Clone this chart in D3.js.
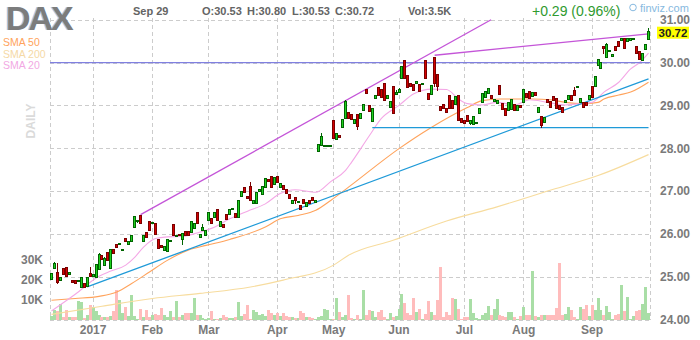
<!DOCTYPE html>
<html>
<head>
<meta charset="utf-8">
<script src="https://cdn.jsdelivr.net/npm/d3@7"></script>
<style>
  body { margin: 0; background: #fff; }
  svg { display: block; font-family: Arial, "Liberation Sans", sans-serif; }
  .grid line { stroke: #cccccc; stroke-dasharray: 4,3; shape-rendering: crispEdges; }
  .axis text { font-size: 12px; font-weight: bold; fill: #7a7a7a; }
  .axis path, .axis line { display: none; }
</style>
</head>
<body>
<svg id="chart" width="700" height="340"></svg>
<script>
// ===== data (DAX, daily, Dec 12 2016 - Sep 29 2017) =====
const opens = [
  24.94,25.18,25.10,24.92,25.18,25.21,25.05,24.92,24.92,24.88,24.75,24.84,24.76,25.08,
  25.00,24.98,25.17,25.49,25.26,25.57,25.18,25.63,25.74,25.74,25.61,25.90,25.76,25.83,26.14,26.30,26.42,25.83,26.03,26.28,
  26.24,26.25,25.86,25.72,25.62,25.59,25.83,26.21,25.94,25.99,25.87,26.06,26.05,26.03,26.12,26.49,25.92,26.07,25.95,
  26.31,26.35,26.37,26.57,26.18,26.21,26.45,26.46,26.58,26.48,26.39,26.88,27.08,26.87,27.11,26.70,26.70,26.98,26.91,27.09,27.28,27.34,27.16,
  27.34,27.09,27.13,27.04,26.92,26.70,26.85,26.74,26.67,26.80,26.65,26.78,26.86,26.73,27.93,28.06,28.04,28.04,28.04,
  28.64,28.20,28.29,28.49,28.69,28.84,28.78,28.58,28.78,28.69,28.87,29.38,28.99,28.63,29.15,29.41,29.38,29.50,29.15,28.94,29.43,29.25,
  29.31,29.62,30.05,29.69,29.50,29.48,29.50,29.48,29.51,30.04,29.27,29.25,30.12,29.71,28.97,29.03,28.93,29.23,29.12,29.01,29.24,28.70,
  28.65,28.77,28.57,28.55,28.57,28.82,29.06,29.19,29.27,29.24,29.10,29.04,29.46,29.04,28.92,28.88,28.90,29.01,28.88,28.99,
  29.06,29.27,29.32,29.21,29.30,28.83,28.74,28.61,29.13,29.09,29.21,29.15,28.99,28.96,29.06,29.13,29.23,29.35,29.43,29.06,29.07,29.07,29.13,
  29.43,29.43,29.94,29.85,30.37,30.11,30.27,30.14,30.37,30.49,30.51,30.56,30.49,30.52,30.53,30.37,30.25,30.04,30.30,30.53
];
const highs = [
  25.09,25.35,25.31,24.98,25.19,25.22,25.11,24.93,24.93,24.93,25.00,24.85,25.00,25.22,
  25.07,25.30,25.55,25.50,25.45,25.58,25.64,25.65,25.75,25.79,25.64,25.91,25.83,25.97,26.42,26.33,26.45,25.97,26.04,26.29,
  26.28,26.26,25.87,25.73,25.72,25.87,25.86,26.22,25.96,26.00,26.01,26.07,26.06,26.29,26.25,26.50,25.99,26.22,26.08,
  26.52,26.36,26.50,26.58,26.29,26.22,26.46,26.59,26.61,26.49,26.79,27.00,27.09,26.88,27.20,26.79,26.98,27.05,27.11,27.30,27.29,27.35,27.32,
  27.35,27.19,27.14,27.05,26.93,26.79,26.86,26.77,26.68,26.81,26.74,26.79,26.87,26.79,28.09,28.35,28.07,28.07,28.07,
  28.65,28.35,28.30,28.67,29.12,28.85,28.79,28.68,28.79,28.83,29.02,29.39,29.00,28.93,29.24,29.42,29.39,29.51,29.24,29.10,29.44,29.36,
  29.40,29.93,30.06,29.70,29.51,29.49,29.57,29.49,29.53,30.05,29.28,29.47,30.13,29.72,28.98,29.04,28.94,29.24,29.13,29.22,29.25,28.71,
  28.66,28.78,28.66,28.76,28.61,28.93,29.28,29.33,29.41,29.25,29.15,29.13,29.47,29.05,28.93,29.08,29.14,29.02,29.00,29.00,
  29.38,29.28,29.33,29.32,29.31,28.97,28.75,28.73,29.14,29.10,29.22,29.16,29.00,28.97,29.12,29.24,29.24,29.44,29.46,29.16,29.08,29.08,29.25,
  29.44,29.69,30.08,30.02,30.38,30.45,30.30,30.19,30.38,30.50,30.58,30.57,30.56,30.58,30.57,30.38,30.26,30.23,30.44,30.80
];
const lows = [
  24.92,25.17,24.84,24.91,25.04,25.00,25.04,24.85,24.83,24.87,24.74,24.74,24.75,24.99,
  24.99,24.97,25.16,25.39,25.25,25.37,25.17,25.53,25.67,25.73,25.60,25.80,25.75,25.82,26.13,26.26,26.24,25.82,25.90,26.07,
  26.23,25.97,25.64,25.67,25.61,25.58,25.82,25.94,25.93,25.95,25.75,25.95,25.95,26.02,26.11,26.23,25.91,26.06,25.94,
  26.30,26.24,26.36,26.31,26.17,26.13,26.33,26.45,26.57,26.38,26.38,26.87,26.96,26.81,26.77,26.69,26.69,26.97,26.90,27.08,27.21,27.08,27.15,
  27.19,27.08,27.02,26.93,26.81,26.69,26.70,26.73,26.55,26.71,26.64,26.69,26.77,26.72,27.92,28.05,28.03,28.03,28.03,
  28.21,28.19,28.24,28.48,28.68,28.68,28.66,28.57,28.43,28.68,28.86,29.26,28.85,28.62,29.14,29.22,29.18,29.10,29.14,28.93,28.80,29.24,
  29.30,29.61,29.62,29.41,29.43,29.34,29.49,29.32,29.50,29.61,29.12,29.24,29.42,29.34,28.88,28.91,28.82,28.91,28.91,29.00,28.64,28.60,
  28.57,28.62,28.55,28.54,28.56,28.81,29.05,29.18,29.26,29.14,29.09,29.03,29.24,28.89,28.75,28.87,28.89,28.87,28.87,28.93,
  29.05,29.18,29.16,29.20,29.21,28.82,28.48,28.60,29.06,28.95,29.10,28.92,28.89,28.83,29.05,29.12,29.10,29.22,29.42,29.05,28.95,28.99,29.12,
  29.18,29.42,29.93,29.84,30.20,30.10,30.26,30.13,30.27,30.37,30.50,30.32,30.48,30.51,30.52,30.21,30.07,30.03,30.29,30.53
];
const closes = [
  25.07,25.31,24.86,24.97,25.05,25.01,25.10,24.86,24.84,24.92,24.98,24.75,24.98,25.00,
  25.06,25.28,25.52,25.40,25.43,25.38,25.63,25.54,25.68,25.78,25.63,25.81,25.82,25.96,26.40,26.32,26.25,25.96,25.91,26.08,
  26.27,25.98,25.65,25.68,25.71,25.86,25.85,25.95,25.95,25.96,26.00,25.96,25.96,26.28,26.24,26.24,25.98,26.14,26.07,
  26.50,26.25,26.49,26.32,26.28,26.14,26.34,26.58,26.60,26.39,26.78,26.99,26.97,26.82,26.78,26.78,26.97,27.04,27.10,27.29,27.22,27.09,27.31,
  27.20,27.18,27.03,26.94,26.82,26.78,26.77,26.76,26.56,26.72,26.73,26.70,26.78,26.78,28.08,28.28,28.06,28.06,28.06,
  28.22,28.34,28.25,28.66,29.10,28.69,28.67,28.67,28.51,28.82,29.01,29.27,28.86,28.92,29.23,29.23,29.19,29.11,29.23,29.09,28.81,29.31,
  29.38,29.91,29.63,29.42,29.44,29.35,29.56,29.33,29.52,29.62,29.13,29.46,29.52,29.45,28.89,28.92,28.83,28.92,28.92,29.21,28.65,28.61,
  28.58,28.63,28.65,28.75,28.60,28.92,29.27,29.32,29.40,29.15,29.14,29.12,29.25,28.90,28.76,29.07,29.13,28.88,28.99,28.94,
  29.37,29.19,29.17,29.31,29.22,28.96,28.53,28.72,29.07,28.96,29.11,28.93,28.90,28.84,29.11,29.23,29.11,29.23,29.45,29.15,28.96,29.00,29.24,
  29.19,29.68,30.07,30.01,30.32,30.43,30.29,30.18,30.28,30.38,30.57,30.33,30.55,30.57,30.56,30.22,30.08,30.22,30.43,30.72
];
// volume in thousands
const volumes = [
  2,5,4.5,8,1.7,5,1.3,1.3,1.7,9.5, 9,0.8,2.3,7.5,6.7,4.7,2.5,1.7,1.3,1.7,
  2,4.7,15,10,3.3,6.7,2,12.5,2,0.7, 5.3,1.7,5,1.3,2.5,3,2.5,5.8,2.5,1.3,
  4.7,1.3,9.5,1.3,2.5,3.7,3.3,3.7,11,2.5, 2.5,0.8,0.3,0.8,4.7,0.7,0.7,0.8,2.5,1.3,
  0.8,0.8,1.3,9,2,3,7.5,0.7,5,4.2, 2.5,3,2,5,3.7,2.5,3.7,2,3.3,2,
  1.3,1.3,0.8,0.8,4.7,3.3,1.3,1.3,0.8,0.7, 1.3,2,5.3,5,0.7,0.5,11,4.2,1.3,2.5,
  12.5,
  0.8,0.5,2.5,0.3,15,2.7,5,4.7,1.3,4, 5,1.3,0.5,3.3,1.7,2,5.7,13,8.7,3.7,
  2.5,11,4,5.3,0.5,2.8,9.7,3.8,2.3,10, 26.7,1.3,4,2.3,11,10.3,5.3,0.5,1.7,1.7,
  10.5,3.3,0.8,0.5,2.3,3.3,7,2.3,5.3,10.5, 2.3,2.2,1.7,3.8,4,1.3,0.5,1.8,6.3,2.3,
  2.5,24.5,2,1.7,2.5,2.3,2.3,2.3,2.3,5.8, 28.7,2.3,3,6.7,4.8,1.3,0.5,6.3,5.5,7.5,
  2,7.7,5,10.8,5,2.5,7,3.8,0.5,2.3, 2.8,17.5,4.5,11.3,0.5,1.8,4.3,5,8,16.3,
  3.5
];

const monthLabels = ["2017", "Feb", "Mar", "Apr", "May", "Jun", "Jul", "Aug", "Sep"];
const monthStart = [14, 34, 53, 76, 95, 117, 139, 159, 182];
const priceTicks = [24, 25, 26, 27, 28, 29, 30, 31];
const volTicks = [10, 20, 30];

// moving averages, read at sample bars
const sma20Bar = [0, 8, 16, 20, 25, 28, 31, 35, 39, 44, 49, 55, 60, 66, 72, 77, 82, 89, 94, 99, 101, 107, 111, 117, 122, 128, 133, 137, 140, 145, 150, 156, 161, 167, 173, 178, 182, 186, 191, 195, 198, 201];
const sma20Val = [24.20, 24.59, 25.01, 25.13, 25.27, 25.45, 25.69, 25.89, 25.93, 25.94, 26.02, 26.16, 26.35, 26.53, 26.70, 26.94, 27.03, 26.97, 27.22, 27.48, 27.67, 28.29, 28.69, 29.00, 29.27, 29.38, 29.37, 29.15, 29.04, 29.01, 29.07, 29.01, 29.13, 29.07, 29.01, 29.04, 29.07, 29.31, 29.54, 29.85, 30.00, 30.22];
const sma50Bar = [0, 8, 16, 22, 27, 33, 39, 46, 52, 60, 72, 77, 83, 89, 94, 100, 117, 128, 140, 145, 151, 162, 168, 173, 179, 184, 186, 191, 195, 201];
const sma50Val = [24.45, 24.49, 24.54, 24.64, 24.84, 25.11, 25.38, 25.62, 25.73, 25.87, 26.16, 26.35, 26.43, 26.55, 26.78, 27.09, 27.99, 28.49, 28.95, 29.11, 29.15, 29.15, 29.13, 29.07, 29.04, 29.07, 29.15, 29.24, 29.31, 29.54];
const sma200Bar = [0, 17, 34, 50, 67, 78, 95, 100, 115, 133, 150, 167, 184, 201];
const sma200Val = [24.12, 24.31, 24.49, 24.61, 24.76, 24.92, 25.27, 25.50, 25.85, 26.30, 26.63, 27.00, 27.36, 27.85];

// drawn trend lines: [bar, price] -> [bar, price]
const purpleLines = [[[30, 26.45], [148, 31.0]], [[129, 30.17], [201, 30.67]]];
const blueLines = [[[12, 24.76], [201, 29.62]], [[108, 28.48], [201, 28.48]]];
const levelLine = 30.0;

const N = closes.length;
const svg = d3.select("#chart");
svg.append("rect").attr("width", 700).attr("height", 340).attr("fill", "#fff");

const x = d3.scaleBand().domain(d3.range(N)).range([50, 650]);
const cx = i => x(i) + x.bandwidth() / 2;
const y = d3.scaleLinear().domain([24, 31]).range([319.5, 19.7]);
const yv = d3.scaleLinear().domain([0, 30]).range([320, 260]);
const up = i => closes[i] >= opens[i];

// ===== grid =====
const grid = svg.append("g").attr("class", "grid");
grid.selectAll(".h").data(priceTicks).join("line")
    .attr("x1", 50).attr("x2", 650)
    .attr("y1", d => Math.round(y(d)) + 0.5).attr("y2", d => Math.round(y(d)) + 0.5);
grid.selectAll(".v").data(monthStart).join("line")
    .attr("x1", d => Math.floor(cx(d)) + 0.5).attr("x2", d => Math.floor(cx(d)) + 0.5)
    .attr("y1", 18).attr("y2", 320);
grid.selectAll(".e").data([50, 650]).join("line")
    .attr("x1", d => d + 0.5).attr("x2", d => d + 0.5)
    .attr("y1", 18).attr("y2", 320);

// ===== volume =====
svg.append("g").selectAll("rect").data(d3.range(N)).join("rect")
    .attr("x", i => Math.floor(cx(i)) - 1)
    .attr("width", 3)
    .attr("y", i => yv(volumes[i]))
    .attr("height", i => 320 - yv(volumes[i]))
    .attr("fill", i => up(i) ? "#a9dea6" : "#ffbcbc")
    .attr("shape-rendering", "crispEdges");

// ===== moving averages =====
const smaLine = (bars, vals, color) => {
  svg.append("path")
      .datum(d3.range(bars.length))
      .attr("fill", "none")
      .attr("stroke", color)
      .attr("stroke-width", 1.1)
      .attr("d", d3.line().curve(d3.curveMonotoneX).x(k => cx(bars[k])).y(k => y(vals[k])));
};
smaLine(sma200Bar, sma200Val, "#f7dc9e");
smaLine(sma50Bar, sma50Val, "#ffa35c");
smaLine(sma20Bar, sma20Val, "#f4a8e6");

// ===== trend lines =====
svg.append("line")
    .attr("x1", 50).attr("x2", 650)
    .attr("y1", y(levelLine)).attr("y2", y(levelLine))
    .attr("stroke", "#8080e0").attr("stroke-width", 1.2);
svg.append("g").selectAll("line").data(blueLines).join("line")
    .attr("x1", d => cx(d[0][0])).attr("y1", d => y(d[0][1]))
    .attr("x2", d => cx(d[1][0])).attr("y2", d => y(d[1][1]))
    .attr("stroke", "#1f9ad8").attr("stroke-width", 1.3);
svg.append("g").selectAll("line").data(purpleLines).join("line")
    .attr("x1", d => cx(d[0][0])).attr("y1", d => y(d[0][1]))
    .attr("x2", d => cx(d[1][0])).attr("y2", d => y(d[1][1]))
    .attr("stroke", "#c455d8").attr("stroke-width", 1.3);

// ===== candles =====
const candles = svg.append("g").attr("shape-rendering", "crispEdges")
    .selectAll("g").data(d3.range(N)).join("g");
candles.append("line")
    .attr("x1", i => Math.floor(cx(i)) + 0.5).attr("x2", i => Math.floor(cx(i)) + 0.5)
    .attr("y1", i => y(highs[i])).attr("y2", i => y(lows[i]))
    .attr("stroke", i => up(i) ? "#006400" : "#7a0000");
candles.append("rect")
    .attr("x", i => Math.floor(cx(i)) - 0.5)
    .attr("width", 2)
    .attr("y", i => y(Math.max(opens[i], closes[i])))
    .attr("height", i => Math.max(1, y(Math.min(opens[i], closes[i])) - y(Math.max(opens[i], closes[i]))))
    .attr("fill", i => up(i) ? "#1fd11f" : "#d40000")
    .attr("stroke", i => up(i) ? "#006400" : "#7a0000")
    .attr("stroke-width", 1);

// ===== axes =====
svg.append("g").attr("class", "axis")
    .attr("transform", "translate(650,0)")
    .call(d3.axisRight(y).tickValues(priceTicks).tickFormat(d3.format(".2f")).tickSize(0).tickPadding(10));
svg.append("g").attr("class", "axis")
    .attr("transform", "translate(0,320)")
    .call(d3.axisBottom(x).tickValues(monthStart).tickFormat((d, k) => monthLabels[k]).tickSize(0).tickPadding(5));
svg.append("g").attr("class", "axis")
    .attr("transform", "translate(50,0)")
    .call(d3.axisLeft(yv).tickValues(volTicks).tickFormat(d => d + "K").tickSize(0).tickPadding(7));

// last price tag
const last = closes[N - 1];
svg.append("rect").attr("x", 657).attr("y", y(last) - 5).attr("width", 32).attr("height", 12).attr("fill", "#ffff00");
svg.append("text").attr("x", 673).attr("y", y(last) + 5.2).attr("text-anchor", "middle")
    .attr("font-size", 11.5).attr("font-weight", "bold").attr("fill", "#222").text(last.toFixed(2));

// ===== header & labels =====
svg.append("text").attr("x", 4.5).attr("y", 30).attr("font-size", 34).attr("font-weight", "bold")
    .attr("letter-spacing", -2).attr("fill", "#a9c4e4").text("DAX");
svg.append("text").attr("x", 6).attr("y", 30).attr("font-size", 34).attr("font-weight", "bold")
    .attr("letter-spacing", -2).attr("fill", "#7c7c7c").text("DAX");

const head = [["Sep 29", 133], ["O:30.53", 202], ["H:30.80", 247], ["L:30.53", 292], ["C:30.72", 335], ["Vol:3.5K", 408]];
svg.append("g").selectAll("text").data(head).join("text")
    .attr("x", d => d[1]).attr("y", 15)
    .attr("font-size", 11).attr("font-weight", "bold").attr("fill", "#646464")
    .text(d => d[0]);
svg.append("text").attr("x", 532).attr("y", 15.5).attr("font-size", 14).attr("fill", "#2f9a2f").text("+0.29 (0.96%)");

// finviz mark
svg.append("circle").attr("cx", 633).attr("cy", 7.5).attr("r", 3.3).attr("fill", "none").attr("stroke", "#86b9e0").attr("stroke-width", 1);
svg.append("text").attr("x", 640).attr("y", 11.5).attr("font-size", 11).attr("fill", "#86b9e0").text("finviz.com");

const legend = [["SMA 50", "#ffa35c"], ["SMA 200", "#f5d9a6"], ["SMA 20", "#f2a8e3"]];
svg.append("g").selectAll("text").data(legend).join("text")
    .attr("x", 3).attr("y", (d, k) => 46 + k * 11.7)
    .attr("font-size", 10.5).attr("fill", d => d[1])
    .text(d => d[0]);

svg.append("text").attr("transform", "translate(35,121) rotate(-90)")
    .attr("text-anchor", "middle").attr("font-size", 12).attr("font-weight", "bold")
    .attr("fill", "#dadada").text("DAILY");
</script>
</body>
</html>
